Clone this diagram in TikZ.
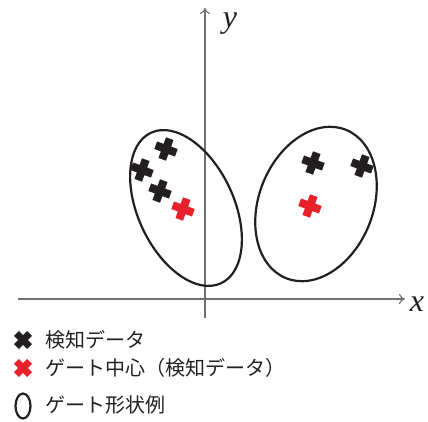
\documentclass[tikz,border=0pt]{standalone}
\usepackage{fontspec}
\newfontfamily\jp{Noto Sans CJK JP}
\newfontfamily\tms{Liberation Serif}
\definecolor{axisgray}{HTML}{707070}
\definecolor{markred}{HTML}{E8202A}
\definecolor{markblack}{HTML}{231F20}
\tikzset{
  plusmark/.pic={\fill (-4,-11) -- (4,-11) -- (4,-4) -- (11,-4) -- (11,4) -- (4,4) -- (4,11) -- (-4,11) -- (-4,4) -- (-11,4) -- (-11,-4) -- (-4,-4) -- cycle;},
  axisline/.style={draw=axisgray, line width=1.1pt, -{To[length=6pt,width=10pt]}},
  gate/.style={draw=markblack, line width=2.2pt},
  legtext/.style={anchor=west, inner sep=0pt, font=\jp\fontsize{20}{24}\selectfont, text=markblack},
  axlabel/.style={inner sep=0pt, font=\tms\itshape\fontsize{32}{34}\selectfont, text=markblack}
}
\usetikzlibrary{arrows.meta}
\begin{document}
\begin{tikzpicture}[x=1pt,y=1pt]
\useasboundingbox (0,0) rectangle (428,421);
% axes
\coordinate (xs) at (18,122);
\coordinate (xe) at (405,122);
\coordinate (ys) at (205,103);
\coordinate (ye) at (205,413);
\draw[axisline] (xs) -- (xe);
\draw[axisline] (ys) -- (ye);
\node[axlabel, anchor=base] (ylab) at (230,393) {y};
\node[axlabel, anchor=base] (xlab) at (417,110) {x};
% gates
\draw[gate, rotate around={25:(186,213)}] (186,213) ellipse [x radius=48, y radius=83];
\draw[gate, rotate around={-22:(316,217)}] (316,217) ellipse [x radius=57, y radius=80];
% marks
\pic[markblack, rotate=-20] (m1) at (166,272) {plusmark};
\pic[markblack, rotate=-20] (m2) at (142,251) {plusmark};
\pic[markblack, rotate=-20] (m3) at (160,230) {plusmark};
\pic[markred, rotate=-20] (r1) at (183,212) {plusmark};
\pic[markblack, rotate=-20] (m4) at (313,258) {plusmark};
\pic[markblack, rotate=-20] (m5) at (362,255) {plusmark};
\pic[markred, rotate=-20] (r2) at (310,215) {plusmark};
% legend
\pic[markblack, rotate=45, scale=0.85] (l1) at (23,81) {plusmark};
\pic[markred, rotate=45, scale=0.85] (l2) at (23,53) {plusmark};
\draw[gate, line width=2.2pt] (23,15) ellipse [x radius=7.5, y radius=12.5];
\node[legtext] (t1) at (45,81) {検知データ};
\node[legtext] (t2) at (45,53) {ゲート中心（検知データ）};
\node[legtext] (t3) at (45,16) {ゲート形状例};
\end{tikzpicture}
\end{document}
